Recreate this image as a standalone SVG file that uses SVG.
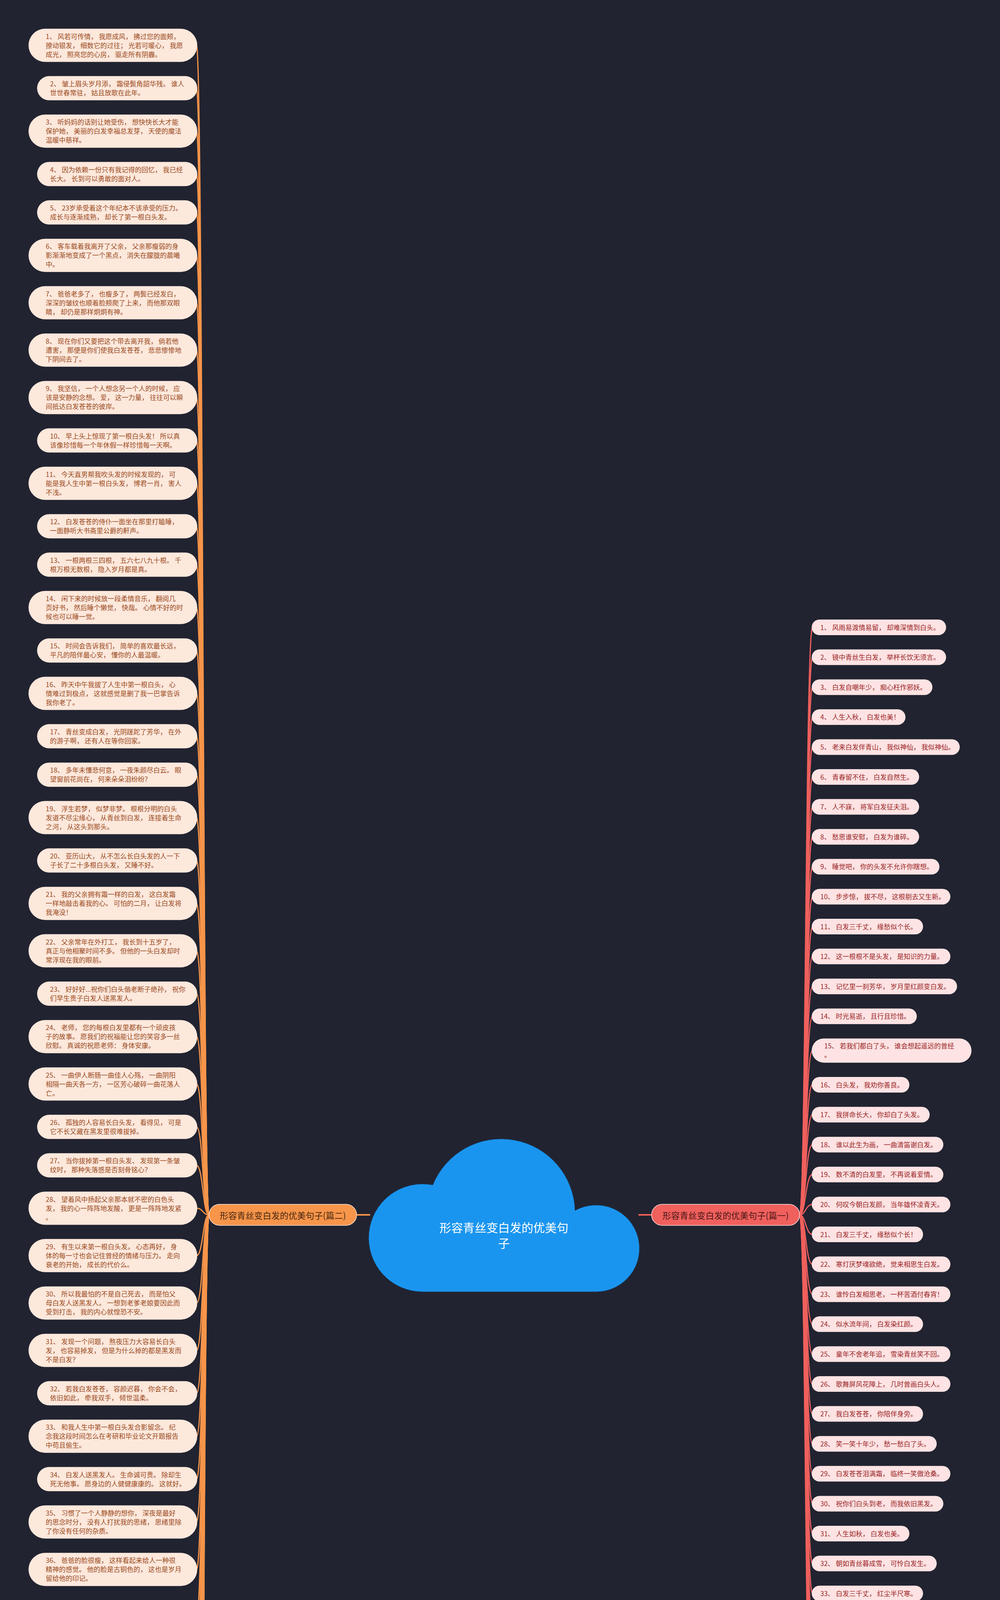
<svg xmlns="http://www.w3.org/2000/svg" width="2560" height="6209" viewBox="0 0 2560 6209">
<style>
.lt{font-family:"Noto Sans CJK SC","Noto Sans",sans-serif;font-size:17px;fill:#9a4a1c}
.rt{font-family:"Noto Sans CJK SC","Noto Sans",sans-serif;font-size:17px;fill:#9a2426}
.lp{fill:#fde8dc}
.rp{fill:#fde3e3}
.cl{fill:none;stroke:#f7954a;stroke-width:3;stroke-linecap:round}
.cr{fill:none;stroke:#f0605d;stroke-width:3;stroke-linecap:round}
.bt{font-family:"Noto Sans CJK SC","Noto Sans",sans-serif;font-size:22px;text-anchor:middle}
.ct{font-family:"Noto Sans CJK SC","Noto Sans",sans-serif;font-size:30px;fill:#ffffff;text-anchor:middle}
</style>
<rect width="2560" height="6209" fill="#212330"/>
<g id="connectors">
<path class="cl" style="stroke-width:4" d="M913,3110 H946"/>
<path class="cr" style="stroke-width:4" d="M1636,3110 H1668"/>
<path class="cl" d="M535,3110 C519,3110 520,116 503,116"/>
<path class="cl" d="M535,3110 C519,3110 520,225.8 503,225.8"/>
<path class="cl" d="M535,3110 C519,3110 520,335.7 503,335.7"/>
<path class="cl" d="M535,3110 C519,3110 520,445.5 503,445.5"/>
<path class="cl" d="M535,3110 C519,3110 520,543.8 503,543.8"/>
<path class="cl" d="M535,3110 C519,3110 520,653.7 503,653.7"/>
<path class="cl" d="M535,3110 C519,3110 520,775 503,775"/>
<path class="cl" d="M535,3110 C519,3110 520,896.3 503,896.3"/>
<path class="cl" d="M535,3110 C519,3110 520,1017.7 503,1017.7"/>
<path class="cl" d="M535,3110 C519,3110 520,1127.5 503,1127.5"/>
<path class="cl" d="M535,3110 C519,3110 520,1237.3 503,1237.3"/>
<path class="cl" d="M535,3110 C519,3110 520,1347.2 503,1347.2"/>
<path class="cl" d="M535,3110 C519,3110 520,1445.5 503,1445.5"/>
<path class="cl" d="M535,3110 C519,3110 520,1555.3 503,1555.3"/>
<path class="cl" d="M535,3110 C519,3110 520,1665.2 503,1665.2"/>
<path class="cl" d="M535,3110 C519,3110 520,1775 503,1775"/>
<path class="cl" d="M535,3110 C519,3110 520,1884.8 503,1884.8"/>
<path class="cl" d="M535,3110 C519,3110 520,1983.2 503,1983.2"/>
<path class="cl" d="M535,3110 C519,3110 520,2093 503,2093"/>
<path class="cl" d="M535,3110 C519,3110 520,2202.8 503,2202.8"/>
<path class="cl" d="M535,3110 C519,3110 520,2312.7 503,2312.7"/>
<path class="cl" d="M535,3110 C519,3110 520,2434 503,2434"/>
<path class="cl" d="M535,3110 C519,3110 520,2543.8 503,2543.8"/>
<path class="cl" d="M535,3110 C519,3110 520,2653.7 503,2653.7"/>
<path class="cl" d="M535,3110 C519,3110 520,2775 503,2775"/>
<path class="cl" d="M535,3110 C519,3110 520,2884.8 503,2884.8"/>
<path class="cl" d="M535,3110 C519,3110 520,2983.2 503,2983.2"/>
<path class="cl" d="M535,3110 C519,3110 520,3093 503,3093"/>
<path class="cl" d="M535,3110 C519,3110 520,3214.3 503,3214.3"/>
<path class="cl" d="M535,3110 C519,3110 520,3335.7 503,3335.7"/>
<path class="cl" d="M535,3110 C519,3110 520,3457 503,3457"/>
<path class="cl" d="M535,3110 C519,3110 520,3566.8 503,3566.8"/>
<path class="cl" d="M535,3110 C519,3110 520,3676.7 503,3676.7"/>
<path class="cl" d="M535,3110 C519,3110 520,3786.5 503,3786.5"/>
<path class="cl" d="M535,3110 C519,3110 520,3896.3 503,3896.3"/>
<path class="cl" d="M535,3110 C519,3110 520,4017.7 503,4017.7"/>
<path class="cl" d="M535,3110 C519,3110 520,4139 503,4139"/>
<path class="cl" d="M535,3110 C519,3110 520,4248.8 503,4248.8"/>
<path class="cl" d="M535,3110 C519,3110 520,4358.7 503,4358.7"/>
<path class="cl" d="M535,3110 C519,3110 520,4468.5 503,4468.5"/>
<path class="cl" d="M535,3110 C519,3110 520,4578.3 503,4578.3"/>
<path class="cl" d="M535,3110 C519,3110 520,4699.7 503,4699.7"/>
<path class="cl" d="M535,3110 C519,3110 520,4821 503,4821"/>
<path class="cl" d="M535,3110 C519,3110 520,4930.8 503,4930.8"/>
<path class="cl" d="M535,3110 C519,3110 520,5029.2 503,5029.2"/>
<path class="cl" d="M535,3110 C519,3110 520,5127.5 503,5127.5"/>
<path class="cl" d="M535,3110 C519,3110 520,5225.8 503,5225.8"/>
<path class="cl" d="M535,3110 C519,3110 520,5324.2 503,5324.2"/>
<path class="cl" d="M535,3110 C519,3110 520,5422.5 503,5422.5"/>
<path class="cl" d="M535,3110 C519,3110 520,5532.3 503,5532.3"/>
<path class="cl" d="M535,3110 C519,3110 520,5653.7 503,5653.7"/>
<path class="cl" d="M535,3110 C519,3110 520,5775 503,5775"/>
<path class="cl" d="M535,3110 C519,3110 520,5884.8 503,5884.8"/>
<path class="cl" d="M535,3110 C519,3110 520,5994.7 503,5994.7"/>
<path class="cl" d="M535,3110 C519,3110 520,6104.5 503,6104.5"/>
<path class="cr" d="M2047,3110 C2063,3110 2062,1606 2080,1606"/>
<path class="cr" d="M2047,3110 C2063,3110 2062,1682.6 2080,1682.6"/>
<path class="cr" d="M2047,3110 C2063,3110 2062,1759.2 2080,1759.2"/>
<path class="cr" d="M2047,3110 C2063,3110 2062,1835.8 2080,1835.8"/>
<path class="cr" d="M2047,3110 C2063,3110 2062,1912.4 2080,1912.4"/>
<path class="cr" d="M2047,3110 C2063,3110 2062,1989 2080,1989"/>
<path class="cr" d="M2047,3110 C2063,3110 2062,2065.6 2080,2065.6"/>
<path class="cr" d="M2047,3110 C2063,3110 2062,2142.2 2080,2142.2"/>
<path class="cr" d="M2047,3110 C2063,3110 2062,2218.8 2080,2218.8"/>
<path class="cr" d="M2047,3110 C2063,3110 2062,2295.4 2080,2295.4"/>
<path class="cr" d="M2047,3110 C2063,3110 2062,2372 2080,2372"/>
<path class="cr" d="M2047,3110 C2063,3110 2062,2448.6 2080,2448.6"/>
<path class="cr" d="M2047,3110 C2063,3110 2062,2525.2 2080,2525.2"/>
<path class="cr" d="M2047,3110 C2063,3110 2062,2601.8 2080,2601.8"/>
<path class="cr" d="M2047,3110 C2063,3110 2062,2689.4 2080,2689.4"/>
<path class="cr" d="M2047,3110 C2063,3110 2062,2777 2080,2777"/>
<path class="cr" d="M2047,3110 C2063,3110 2062,2853.6 2080,2853.6"/>
<path class="cr" d="M2047,3110 C2063,3110 2062,2930.2 2080,2930.2"/>
<path class="cr" d="M2047,3110 C2063,3110 2062,3006.8 2080,3006.8"/>
<path class="cr" d="M2047,3110 C2063,3110 2062,3083.4 2080,3083.4"/>
<path class="cr" d="M2047,3110 C2063,3110 2062,3160 2080,3160"/>
<path class="cr" d="M2047,3110 C2063,3110 2062,3236.6 2080,3236.6"/>
<path class="cr" d="M2047,3110 C2063,3110 2062,3313.2 2080,3313.2"/>
<path class="cr" d="M2047,3110 C2063,3110 2062,3389.8 2080,3389.8"/>
<path class="cr" d="M2047,3110 C2063,3110 2062,3466.4 2080,3466.4"/>
<path class="cr" d="M2047,3110 C2063,3110 2062,3543 2080,3543"/>
<path class="cr" d="M2047,3110 C2063,3110 2062,3619.6 2080,3619.6"/>
<path class="cr" d="M2047,3110 C2063,3110 2062,3696.2 2080,3696.2"/>
<path class="cr" d="M2047,3110 C2063,3110 2062,3772.8 2080,3772.8"/>
<path class="cr" d="M2047,3110 C2063,3110 2062,3849.4 2080,3849.4"/>
<path class="cr" d="M2047,3110 C2063,3110 2062,3926 2080,3926"/>
<path class="cr" d="M2047,3110 C2063,3110 2062,4002.6 2080,4002.6"/>
<path class="cr" d="M2047,3110 C2063,3110 2062,4079.2 2080,4079.2"/>
<path class="cr" d="M2047,3110 C2063,3110 2062,4155.8 2080,4155.8"/>
<path class="cr" d="M2047,3110 C2063,3110 2062,4232.4 2080,4232.4"/>
<path class="cr" d="M2047,3110 C2063,3110 2062,4309 2080,4309"/>
<path class="cr" d="M2047,3110 C2063,3110 2062,4385.6 2080,4385.6"/>
<path class="cr" d="M2047,3110 C2063,3110 2062,4462.2 2080,4462.2"/>
<path class="cr" d="M2047,3110 C2063,3110 2062,4538.8 2080,4538.8"/>
<path class="cr" d="M2047,3110 C2063,3110 2062,4615.4 2080,4615.4"/>
</g>
<g id="root">
<path d="M1082,3307 A138,138 0 1 1 1108,3033.5 A189,189 0 0 1 1472,3099 A111,111 0 1 1 1527,3307 Z" fill="#1a95ef" stroke="#17426b" stroke-width="1"/>
<text class="ct" x="1290" y="3154">形容青丝变白发的优美句</text>
<text class="ct" x="1290" y="3194">子</text>
</g>
<g id="branch-left">
<rect x="535" y="3083" width="378" height="54" rx="27" fill="#f7954a" stroke="#fde8dc" stroke-width="1.5"/>
<text class="bt" x="724" y="3120" fill="#4d2810">形容青丝变白发的优美句子(篇二)</text>
</g>
<g id="branch-right">
<rect x="1668" y="3083" width="379" height="54" rx="27" fill="#f0605d" stroke="#fde3e3" stroke-width="1.5"/>
<text class="bt" x="1857.5" y="3120" fill="#4d1616">形容青丝变白发的优美句子(篇一)</text>
</g>
<g id="l1" transform="translate(0,73.5)"><rect class="lp" x="73" width="432" height="85" rx="42.5"/><text class="lt" x="117" y="26">1、 风若可传情， 我愿成风， 拂过您的面颊，<tspan x="117" dy="23">撩动银发， 细数它的过往； 光若可暖心， 我愿</tspan><tspan x="117" dy="23">成光， 照亮您的心房， 驱走所有阴霾。</tspan></text></g>
<g id="l2" transform="translate(0,194.8)"><rect class="lp" x="95" width="410" height="62" rx="31"/><text class="lt" x="128" y="26">2、 皱上眉头岁月添， 霜侵鬓角韶华残。 谁人<tspan x="128" dy="23">世世春常驻， 姑且放歌在此年。</tspan></text></g>
<g id="l3" transform="translate(0,293.2)"><rect class="lp" x="73" width="432" height="85" rx="42.5"/><text class="lt" x="117" y="26">3、 听妈妈的话别让她受伤， 想快快长大才能<tspan x="117" dy="23">保护她， 美丽的白发幸福总发芽， 天使的魔法</tspan><tspan x="117" dy="23">温暖中慈祥。</tspan></text></g>
<g id="l4" transform="translate(0,414.5)"><rect class="lp" x="95" width="410" height="62" rx="31"/><text class="lt" x="128" y="26">4、 因为依赖一份只有我记得的回忆， 我已经<tspan x="128" dy="23">长大。 长到可以勇敢的面对人。</tspan></text></g>
<g id="l5" transform="translate(0,512.8)"><rect class="lp" x="95" width="410" height="62" rx="31"/><text class="lt" x="128" y="26">5、 23岁承受着这个年纪本不该承受的压力。<tspan x="128" dy="23">成长与逐渐成熟， 却长了第一根白头发。</tspan></text></g>
<g id="l6" transform="translate(0,611.2)"><rect class="lp" x="73" width="432" height="85" rx="42.5"/><text class="lt" x="117" y="26">6、 客车载着我离开了父亲， 父亲那瘦弱的身<tspan x="117" dy="23">影渐渐地变成了一个黑点， 消失在朦胧的晨曦</tspan><tspan x="117" dy="23">中。</tspan></text></g>
<g id="l7" transform="translate(0,732.5)"><rect class="lp" x="73" width="432" height="85" rx="42.5"/><text class="lt" x="117" y="26">7、 爸爸老多了， 也瘦多了， 两鬓已经发白，<tspan x="117" dy="23">深深的皱纹也顺着脸颊爬了上来， 而他那双眼</tspan><tspan x="117" dy="23">睛， 却仍是那样炯炯有神。</tspan></text></g>
<g id="l8" transform="translate(0,853.8)"><rect class="lp" x="73" width="432" height="85" rx="42.5"/><text class="lt" x="117" y="26">8、 现在你们又要把这个带去离开我， 倘若他<tspan x="117" dy="23">遭害， 那便是你们使我白发苍苍， 悲悲惨惨地</tspan><tspan x="117" dy="23">下阴间去了。</tspan></text></g>
<g id="l9" transform="translate(0,975.2)"><rect class="lp" x="73" width="432" height="85" rx="42.5"/><text class="lt" x="117" y="26">9、 我坚信， 一个人想念另一个人的时候， 应<tspan x="117" dy="23">该是安静的念想。 爱， 这一力量， 往往可以瞬</tspan><tspan x="117" dy="23">间抵达白发苍苍的彼岸。</tspan></text></g>
<g id="l10" transform="translate(0,1096.5)"><rect class="lp" x="95" width="410" height="62" rx="31"/><text class="lt" x="128" y="26">10、 早上头上惊现了第一根白头发！ 所以真<tspan x="128" dy="23">该像珍惜每一个年休假一样珍惜每一天啊。</tspan></text></g>
<g id="l11" transform="translate(0,1194.8)"><rect class="lp" x="73" width="432" height="85" rx="42.5"/><text class="lt" x="117" y="26">11、 今天直男帮我吹头发的时候发现的， 可<tspan x="117" dy="23">能是我人生中第一根白头发， 博君一肖， 害人</tspan><tspan x="117" dy="23">不浅。</tspan></text></g>
<g id="l12" transform="translate(0,1316.2)"><rect class="lp" x="95" width="410" height="62" rx="31"/><text class="lt" x="128" y="26">12、 白发苍苍的侍仆一面坐在那里打瞌睡，<tspan x="128" dy="23">一面静听大书斋里公爵的鼾声。</tspan></text></g>
<g id="l13" transform="translate(0,1414.5)"><rect class="lp" x="95" width="410" height="62" rx="31"/><text class="lt" x="128" y="26">13、 一根两根三四根， 五六七八九十根。 千<tspan x="128" dy="23">根万根无数根， 隐入岁月都是真。</tspan></text></g>
<g id="l14" transform="translate(0,1512.8)"><rect class="lp" x="73" width="432" height="85" rx="42.5"/><text class="lt" x="117" y="26">14、 闲下来的时候放一段柔情音乐， 翻阅几<tspan x="117" dy="23">页好书， 然后睡个懒觉， 快哉。 心情不好的时</tspan><tspan x="117" dy="23">候也可以睡一觉。</tspan></text></g>
<g id="l15" transform="translate(0,1634.2)"><rect class="lp" x="95" width="410" height="62" rx="31"/><text class="lt" x="128" y="26">15、 时间会告诉我们， 简单的喜欢最长远，<tspan x="128" dy="23">平凡的陪伴最心安， 懂你的人最温暖。</tspan></text></g>
<g id="l16" transform="translate(0,1732.5)"><rect class="lp" x="73" width="432" height="85" rx="42.5"/><text class="lt" x="117" y="26">16、 昨天中午我拔了人生中第一根白头， 心<tspan x="117" dy="23">情难过到极点， 这就感觉是删了我一巴掌告诉</tspan><tspan x="117" dy="23">我你老了。</tspan></text></g>
<g id="l17" transform="translate(0,1853.8)"><rect class="lp" x="95" width="410" height="62" rx="31"/><text class="lt" x="128" y="26">17、 青丝变成白发， 光阴蹉跎了芳华， 在外<tspan x="128" dy="23">的游子啊， 还有人在等你回家。</tspan></text></g>
<g id="l18" transform="translate(0,1952.2)"><rect class="lp" x="95" width="410" height="62" rx="31"/><text class="lt" x="128" y="26">18、 多年未懂悲何意， 一夜朱颜尽白云。 眼<tspan x="128" dy="23">望窗前花尚在， 何来朵朵泪纷纷？</tspan></text></g>
<g id="l19" transform="translate(0,2050.5)"><rect class="lp" x="73" width="432" height="85" rx="42.5"/><text class="lt" x="117" y="26">19、 浮生若梦， 似梦非梦。 根根分明的白头<tspan x="117" dy="23">发道不尽尘缘心， 从青丝到白发， 连接着生命</tspan><tspan x="117" dy="23">之河， 从这头到那头。</tspan></text></g>
<g id="l20" transform="translate(0,2171.8)"><rect class="lp" x="95" width="410" height="62" rx="31"/><text class="lt" x="128" y="26">20、 亚历山大， 从不怎么长白头发的人一下<tspan x="128" dy="23">子长了二十多根白头发， 又睡不好。</tspan></text></g>
<g id="l21" transform="translate(0,2270.2)"><rect class="lp" x="73" width="432" height="85" rx="42.5"/><text class="lt" x="117" y="26">21、 我的父亲拥有霜一样的白发， 这白发霜<tspan x="117" dy="23">一样地敲击着我的心。 可怕的二月， 让白发将</tspan><tspan x="117" dy="23">我淹没！</tspan></text></g>
<g id="l22" transform="translate(0,2391.5)"><rect class="lp" x="73" width="432" height="85" rx="42.5"/><text class="lt" x="117" y="26">22、 父亲常年在外打工， 我长到十五岁了，<tspan x="117" dy="23">真正与他相聚时间不多。 但他的一头白发却时</tspan><tspan x="117" dy="23">常浮现在我的眼前。</tspan></text></g>
<g id="l23" transform="translate(0,2512.8)"><rect class="lp" x="95" width="410" height="62" rx="31"/><text class="lt" x="128" y="26">23、 好好好...祝你们白头偕老断子绝孙， 祝你<tspan x="128" dy="23">们早生贵子白发人送黑发人。</tspan></text></g>
<g id="l24" transform="translate(0,2611.2)"><rect class="lp" x="73" width="432" height="85" rx="42.5"/><text class="lt" x="117" y="26">24、 老师， 您的每根白发里都有一个顽皮孩<tspan x="117" dy="23">子的故事。 愿我们的祝福能让您的笑容多一丝</tspan><tspan x="117" dy="23">欣慰。 真诚的祝愿老师： 身体安康。</tspan></text></g>
<g id="l25" transform="translate(0,2732.5)"><rect class="lp" x="73" width="432" height="85" rx="42.5"/><text class="lt" x="117" y="26">25、 一曲伊人断肠一曲佳人心殇， 一曲阴阳<tspan x="117" dy="23">相隔一曲天各一方， 一区芳心破碎一曲花落人</tspan><tspan x="117" dy="23">亡。</tspan></text></g>
<g id="l26" transform="translate(0,2853.8)"><rect class="lp" x="95" width="410" height="62" rx="31"/><text class="lt" x="128" y="26">26、 孤独的人容易长白头发， 看得见， 可是<tspan x="128" dy="23">它不长又藏在黑发里很难拔掉。</tspan></text></g>
<g id="l27" transform="translate(0,2952.2)"><rect class="lp" x="95" width="410" height="62" rx="31"/><text class="lt" x="128" y="26">27、 当你拔掉第一根白头发、 发现第一条皱<tspan x="128" dy="23">纹时， 那种失落感是否刻骨铭心？</tspan></text></g>
<g id="l28" transform="translate(0,3050.5)"><rect class="lp" x="73" width="432" height="85" rx="42.5"/><text class="lt" x="117" y="26">28、 望着风中扬起父亲那本就不密的白色头<tspan x="117" dy="23">发， 我的心一阵阵地发酸， 更是一阵阵地发紧</tspan><tspan x="117" dy="23">。</tspan></text></g>
<g id="l29" transform="translate(0,3171.8)"><rect class="lp" x="73" width="432" height="85" rx="42.5"/><text class="lt" x="117" y="26">29、 有生以来第一根白头发。 心态再好， 身<tspan x="117" dy="23">体的每一寸也会记住曾经的情绪与压力。 走向</tspan><tspan x="117" dy="23">衰老的开始， 成长的代价么。</tspan></text></g>
<g id="l30" transform="translate(0,3293.2)"><rect class="lp" x="73" width="432" height="85" rx="42.5"/><text class="lt" x="117" y="26">30、 所以我最怕的不是自己死去， 而是怕父<tspan x="117" dy="23">母白发人送黑发人。 一想到老爹老娘要因此而</tspan><tspan x="117" dy="23">受到打击， 我的内心就惶恐不安。</tspan></text></g>
<g id="l31" transform="translate(0,3414.5)"><rect class="lp" x="73" width="432" height="85" rx="42.5"/><text class="lt" x="117" y="26">31、 发现一个问题， 熬夜压力大容易长白头<tspan x="117" dy="23">发， 也容易掉发， 但是为什么掉的都是黑发而</tspan><tspan x="117" dy="23">不是白发？</tspan></text></g>
<g id="l32" transform="translate(0,3535.8)"><rect class="lp" x="95" width="410" height="62" rx="31"/><text class="lt" x="128" y="26">32、 若我白发苍苍， 容颜迟暮， 你会不会，<tspan x="128" dy="23">依旧如此， 牵我双手， 倾世温柔。</tspan></text></g>
<g id="l33" transform="translate(0,3634.2)"><rect class="lp" x="73" width="432" height="85" rx="42.5"/><text class="lt" x="117" y="26">33、 和我人生中第一根白头发合影留念。 纪<tspan x="117" dy="23">念我这段时间怎么在考研和毕业论文开题报告</tspan><tspan x="117" dy="23">中苟且偷生。</tspan></text></g>
<g id="l34" transform="translate(0,3755.5)"><rect class="lp" x="95" width="410" height="62" rx="31"/><text class="lt" x="128" y="26">34、 白发人送黑发人。 生命诚可贵。 除却生<tspan x="128" dy="23">死无他事。 愿身边的人健健康康的。 这就好。</tspan></text></g>
<g id="l35" transform="translate(0,3853.8)"><rect class="lp" x="73" width="432" height="85" rx="42.5"/><text class="lt" x="117" y="26">35、 习惯了一个人静静的想你， 深夜是最好<tspan x="117" dy="23">的思念时分， 没有人打扰我的思绪， 思绪里除</tspan><tspan x="117" dy="23">了你没有任何的杂质。</tspan></text></g>
<g id="l36" transform="translate(0,3975.2)"><rect class="lp" x="73" width="432" height="85" rx="42.5"/><text class="lt" x="117" y="26">36、 爸爸的脸很瘦， 这样看起来给人一种很<tspan x="117" dy="23">精神的感觉。 他的脸是古铜色的， 这也是岁月</tspan><tspan x="117" dy="23">留给他的印记。</tspan></text></g>
<g id="l37" transform="translate(0,4096.5)"><rect class="lp" x="73" width="432" height="85" rx="42.5"/><text class="lt" x="117" y="26">37、 您的白发， 每一根都诉说着岁月的沧桑<tspan x="117" dy="23">； 您的皱纹， 每一道都记录着你的功勋； 您的</tspan><tspan x="117" dy="23">脊梁， 诠释着顶梁柱的责任。</tspan></text></g>
<g id="l38" transform="translate(0,4217.8)"><rect class="lp" x="95" width="410" height="62" rx="31"/><text class="lt" x="128" y="26">38、 尘缘从来都如水， 罕需泪， 何尽很多人<tspan x="128" dy="23">不是孤僻， 而是有原则有选择地社交。</tspan></text></g>
<g id="l39" transform="translate(0,4316.2)"><rect class="lp" x="73" width="432" height="85" rx="42.5"/><text class="lt" x="117" y="26">39、 岁月的无情和工作的繁重， 使父亲的白<tspan x="117" dy="23">发渐多， 脸上的皱纹也稠密起来， 这些白发和</tspan><tspan x="117" dy="23">皱纹都鉴证了父亲为我付出的一切艰辛。</tspan></text></g>
<g id="l40" transform="translate(0,4437.5)"><rect class="lp" x="95" width="410" height="62" rx="31"/><text class="lt" x="128" y="26">40、 生活就像在演戏， 真希望世界上有后悔<tspan x="128" dy="23">， 时光能倒流， 岁月如梭， 白发人送黑发人。</tspan></text></g>
<g id="l41" transform="translate(0,4535.8)"><rect class="lp" x="73" width="432" height="85" rx="42.5"/><text class="lt" x="117" y="26">41、 老了， 树欲静而风不止， 就像人生中随<tspan x="117" dy="23">时而至的风雨， 这又哪里只是白头发， 分明就</tspan><tspan x="117" dy="23">是人的时光， 人的足印。</tspan></text></g>
<g id="l42" transform="translate(0,4657.2)"><rect class="lp" x="73" width="432" height="85" rx="42.5"/><text class="lt" x="117" y="26">42、 君不见黄河之水天上来， 奔流到海不复<tspan x="117" dy="23">回。 君不见高堂明镜悲白发， 朝如青丝暮成雪</tspan><tspan x="117" dy="23">。</tspan></text></g>
<g id="l43" transform="translate(0,4778.5)"><rect class="lp" x="73" width="432" height="85" rx="42.5"/><text class="lt" x="117" y="26">43、 日落日升， 花开花落， 父亲在所谓的命<tspan x="117" dy="23">运安排中过早献上了自己的白发。 白发无言，</tspan><tspan x="117" dy="23">人也默然。</tspan></text></g>
<g id="l44" transform="translate(0,4899.8)"><rect class="lp" x="95" width="410" height="62" rx="31"/><text class="lt" x="128" y="26">44、 我的第一根白头发我开始恐惧了， 我以<tspan x="128" dy="23">为我这辈子都不会长白头发的。</tspan></text></g>
<g id="l45" transform="translate(0,4998.2)"><rect class="lp" x="95" width="410" height="62" rx="31"/><text class="lt" x="128" y="26">45、 人生第一根白头发， 目测是结婚前后长<tspan x="128" dy="23">出来的， 婚姻的杀伤力果然很大。</tspan></text></g>
<g id="l46" transform="translate(0,5096.5)"><rect class="lp" x="95" width="410" height="62" rx="31"/><text class="lt" x="128" y="26">46、 人生第一根白头发， 被发现时， 真的大<tspan x="128" dy="23">吃一惊， 那么年轻居然有白头发了。</tspan></text></g>
<g id="l47" transform="translate(0,5194.8)"><rect class="lp" x="95" width="410" height="62" rx="31"/><text class="lt" x="128" y="26">47、 她一头乌黑闪亮的秀发自然地披落下来<tspan x="128" dy="23">， 像黑色的锦缎一样光滑柔软。</tspan></text></g>
<g id="l48" transform="translate(0,5293.2)"><rect class="lp" x="95" width="410" height="62" rx="31"/><text class="lt" x="128" y="26">48、 在一段感情中， 卑微的那个才是最惨的<tspan x="128" dy="23">， 因为他连放弃的资格都没有。</tspan></text></g>
<g id="l49" transform="translate(0,5391.5)"><rect class="lp" x="95" width="410" height="62" rx="31"/><text class="lt" x="128" y="26">49、 千里孤坟话凄凉， 白发人送黑发人， 你<tspan x="128" dy="23">走的是干脆， 留下亲人朋友一辈子的痛苦！</tspan></text></g>
<g id="l50" transform="translate(0,5489.8)"><rect class="lp" x="73" width="432" height="85" rx="42.5"/><text class="lt" x="117" y="26">50、 忽然没电了， 四周一片漆黑， 父亲点灯<tspan x="117" dy="23">的时候， 第一次发现父亲曾经浓密的黑发里，</tspan><tspan x="117" dy="23">竟然多了好多根白发， 也稀疏了不少。</tspan></text></g>
<g id="l51" transform="translate(0,5611.2)"><rect class="lp" x="73" width="432" height="85" rx="42.5"/><text class="lt" x="117" y="26">51、 多希望有个人陪着我， 从短发齐耳到长<tspan x="117" dy="23">发齐腰， 从校服到婚纱， 从青春年少到苍苍白</tspan><tspan x="117" dy="23">发。</tspan></text></g>
<g id="l52" transform="translate(0,5732.5)"><rect class="lp" x="73" width="432" height="85" rx="42.5"/><text class="lt" x="117" y="26">52、 当我们采摘丰收果实的时候， 您留给自<tspan x="117" dy="23">己的却是被粉笔灰染白的两鬓白发。 向您致敬</tspan><tspan x="117" dy="23">， 敬爱的老师， 节日快乐！</tspan></text></g>
<g id="l53" transform="translate(0,5853.8)"><rect class="lp" x="95" width="410" height="62" rx="31"/><text class="lt" x="128" y="26">53、 当染过的头发看上去一片乌黑青黛， 它<tspan x="128" dy="23">们的根部又齐刷刷冒出一茬雪白。</tspan></text></g>
<g id="l54" transform="translate(0,5952.2)"><rect class="lp" x="73" width="432" height="85" rx="42.5"/><text class="lt" x="117" y="26">54、 10点54分， 发现了我人生中第一根白头<tspan x="117" dy="23">发， 这是不是意味着我已经开始老去了有点难</tspan><tspan x="117" dy="23">过啊。</tspan></text></g>
<g id="l55" transform="translate(0,6073.5)"><rect class="lp" x="95" width="410" height="62" rx="31"/><text class="lt" x="128" y="26">55、 爱情里， 总有一个主角和一个配角， 累<tspan x="128" dy="23">的永远是主角， 伤的永远是配角。</tspan></text></g>
<g id="r1" transform="translate(0,1586)"><rect class="rp" x="2078" width="344" height="40" rx="20"/><text class="rt" x="2100" y="26.5">1、 风雨易渡情易留， 却难深情到白头。</text></g>
<g id="r2" transform="translate(0,1662.6)"><rect class="rp" x="2078" width="344" height="40" rx="20"/><text class="rt" x="2100" y="26.5">2、 镜中青丝生白发， 举杯长饮无须言。</text></g>
<g id="r3" transform="translate(0,1739.2)"><rect class="rp" x="2078" width="309" height="40" rx="20"/><text class="rt" x="2100" y="26.5">3、 白发自嘲年少， 痴心枉作邪妖。</text></g>
<g id="r4" transform="translate(0,1815.8)"><rect class="rp" x="2078" width="240" height="40" rx="20"/><text class="rt" x="2100" y="26.5">4、 人生入秋， 白发也美！</text></g>
<g id="r5" transform="translate(0,1892.4)"><rect class="rp" x="2078" width="379" height="40" rx="20"/><text class="rt" x="2100" y="26.5">5、 老来白发伴青山， 我似神仙， 我似神仙。</text></g>
<g id="r6" transform="translate(0,1969)"><rect class="rp" x="2078" width="275" height="40" rx="20"/><text class="rt" x="2100" y="26.5">6、 青春留不住， 白发自然生。</text></g>
<g id="r7" transform="translate(0,2045.6)"><rect class="rp" x="2078" width="275" height="40" rx="20"/><text class="rt" x="2100" y="26.5">7、 人不寐， 将军白发征夫泪。</text></g>
<g id="r8" transform="translate(0,2122.2)"><rect class="rp" x="2078" width="275" height="40" rx="20"/><text class="rt" x="2100" y="26.5">8、 愁思谁安慰， 白发为谁碎。</text></g>
<g id="r9" transform="translate(0,2198.8)"><rect class="rp" x="2078" width="327" height="40" rx="20"/><text class="rt" x="2100" y="26.5">9、 睡觉吧， 你的头发不允许你瞎想。</text></g>
<g id="r10" transform="translate(0,2275.4)"><rect class="rp" x="2078" width="355" height="40" rx="20"/><text class="rt" x="2100" y="26.5">10、 步步惊， 拔不尽， 这根剔去又生新。</text></g>
<g id="r11" transform="translate(0,2352)"><rect class="rp" x="2078" width="285" height="40" rx="20"/><text class="rt" x="2100" y="26.5">11、 白发三千丈， 缘愁似个长。</text></g>
<g id="r12" transform="translate(0,2428.6)"><rect class="rp" x="2078" width="355" height="40" rx="20"/><text class="rt" x="2100" y="26.5">12、 这一根根不是头发， 是知识的力量。</text></g>
<g id="r13" transform="translate(0,2505.2)"><rect class="rp" x="2078" width="372" height="40" rx="20"/><text class="rt" x="2100" y="26.5">13、 记忆里一刹芳华， 岁月里红颜变白发。</text></g>
<g id="r14" transform="translate(0,2581.8)"><rect class="rp" x="2078" width="269" height="40" rx="20"/><text class="rt" x="2100" y="26.5">14、 时光易逝， 且行且珍惜。</text></g>
<g id="r15" transform="translate(0,2658.4)"><rect class="rp" x="2078" width="409" height="62" rx="31"/><text class="rt" x="2110" y="26">15、 若我们都白了头， 谁会想起遥远的曾经<tspan x="2110" dy="23">。</tspan></text></g>
<g id="r16" transform="translate(0,2757)"><rect class="rp" x="2078" width="250" height="40" rx="20"/><text class="rt" x="2100" y="26.5">16、 白头发， 我劝你善良。</text></g>
<g id="r17" transform="translate(0,2833.6)"><rect class="rp" x="2078" width="302" height="40" rx="20"/><text class="rt" x="2100" y="26.5">17、 我拼命长大， 你却白了头发。</text></g>
<g id="r18" transform="translate(0,2910.2)"><rect class="rp" x="2078" width="337" height="40" rx="20"/><text class="rt" x="2100" y="26.5">18、 谁以此生为画， 一曲清笛谢白发。</text></g>
<g id="r19" transform="translate(0,2986.8)"><rect class="rp" x="2078" width="337" height="40" rx="20"/><text class="rt" x="2100" y="26.5">19、 数不清的白发里， 不再说着爱情。</text></g>
<g id="r20" transform="translate(0,3063.4)"><rect class="rp" x="2078" width="355" height="40" rx="20"/><text class="rt" x="2100" y="26.5">20、 何叹今朝白发颜， 当年雄怀凌青天。</text></g>
<g id="r21" transform="translate(0,3140)"><rect class="rp" x="2078" width="285" height="40" rx="20"/><text class="rt" x="2100" y="26.5">21、 白发三千丈， 缘愁似个长！</text></g>
<g id="r22" transform="translate(0,3216.6)"><rect class="rp" x="2078" width="355" height="40" rx="20"/><text class="rt" x="2100" y="26.5">22、 寒灯厌梦魂欲绝， 觉来相思生白发。</text></g>
<g id="r23" transform="translate(0,3293.2)"><rect class="rp" x="2078" width="355" height="40" rx="20"/><text class="rt" x="2100" y="26.5">23、 谁怜白发相思老， 一杯苦酒付春宵！</text></g>
<g id="r24" transform="translate(0,3369.8)"><rect class="rp" x="2078" width="285" height="40" rx="20"/><text class="rt" x="2100" y="26.5">24、 似水流年间， 白发染红颜。</text></g>
<g id="r25" transform="translate(0,3446.4)"><rect class="rp" x="2078" width="355" height="40" rx="20"/><text class="rt" x="2100" y="26.5">25、 童年不舍老年追， 雪染青丝笑不回。</text></g>
<g id="r26" transform="translate(0,3523)"><rect class="rp" x="2078" width="355" height="40" rx="20"/><text class="rt" x="2100" y="26.5">26、 歌舞屏风花障上， 几时曾画白头人。</text></g>
<g id="r27" transform="translate(0,3599.6)"><rect class="rp" x="2078" width="285" height="40" rx="20"/><text class="rt" x="2100" y="26.5">27、 我白发苍苍， 你陪伴身旁。</text></g>
<g id="r28" transform="translate(0,3676.2)"><rect class="rp" x="2078" width="320" height="40" rx="20"/><text class="rt" x="2100" y="26.5">28、 笑一笑十年少， 愁一愁白了头。</text></g>
<g id="r29" transform="translate(0,3752.8)"><rect class="rp" x="2078" width="355" height="40" rx="20"/><text class="rt" x="2100" y="26.5">29、 白发苍苍泪满霜， 临终一笑傲沧桑。</text></g>
<g id="r30" transform="translate(0,3829.4)"><rect class="rp" x="2078" width="337" height="40" rx="20"/><text class="rt" x="2100" y="26.5">30、 祝你们白头到老， 而我依旧黑发。</text></g>
<g id="r31" transform="translate(0,3906)"><rect class="rp" x="2078" width="250" height="40" rx="20"/><text class="rt" x="2100" y="26.5">31、 人生如秋， 白发也美。</text></g>
<g id="r32" transform="translate(0,3982.6)"><rect class="rp" x="2078" width="320" height="40" rx="20"/><text class="rt" x="2100" y="26.5">32、 朝如青丝暮成雪， 可怜白发生。</text></g>
<g id="r33" transform="translate(0,4059.2)"><rect class="rp" x="2078" width="285" height="40" rx="20"/><text class="rt" x="2100" y="26.5">33、 白发三千丈， 红尘半尺寒。</text></g>
<g id="r34" transform="translate(0,4135.8)"><rect class="rp" x="2078" width="355" height="40" rx="20"/><text class="rt" x="2100" y="26.5">34、 说好一起到白头， 你却偷偷焗了油。</text></g>
<g id="r35" transform="translate(0,4212.4)"><rect class="rp" x="2078" width="355" height="40" rx="20"/><text class="rt" x="2100" y="26.5">35、 为君相思尽白发， 红衣相待却无家。</text></g>
<g id="r36" transform="translate(0,4289)"><rect class="rp" x="2078" width="285" height="40" rx="20"/><text class="rt" x="2100" y="26.5">36、 岁月伴白发， 一梦碎红尘。</text></g>
<g id="r37" transform="translate(0,4365.6)"><rect class="rp" x="2078" width="355" height="40" rx="20"/><text class="rt" x="2100" y="26.5">37、 白头戴花君莫笑， 岁月从不败美人！</text></g>
<g id="r38" transform="translate(0,4442.2)"><rect class="rp" x="2078" width="302" height="40" rx="20"/><text class="rt" x="2100" y="26.5">38、 月染霜华， 转眼青丝成白发。</text></g>
<g id="r39" transform="translate(0,4518.8)"><rect class="rp" x="2078" width="355" height="40" rx="20"/><text class="rt" x="2100" y="26.5">39、 白发丛生照镜台， 青春小鸟去难回。</text></g>
<g id="r40" transform="translate(0,4595.4)"><rect class="rp" x="2078" width="355" height="40" rx="20"/><text class="rt" x="2100" y="26.5">40、 白发频催岁月勤， 相逢一笑卸尘氛。</text></g>
</svg>
